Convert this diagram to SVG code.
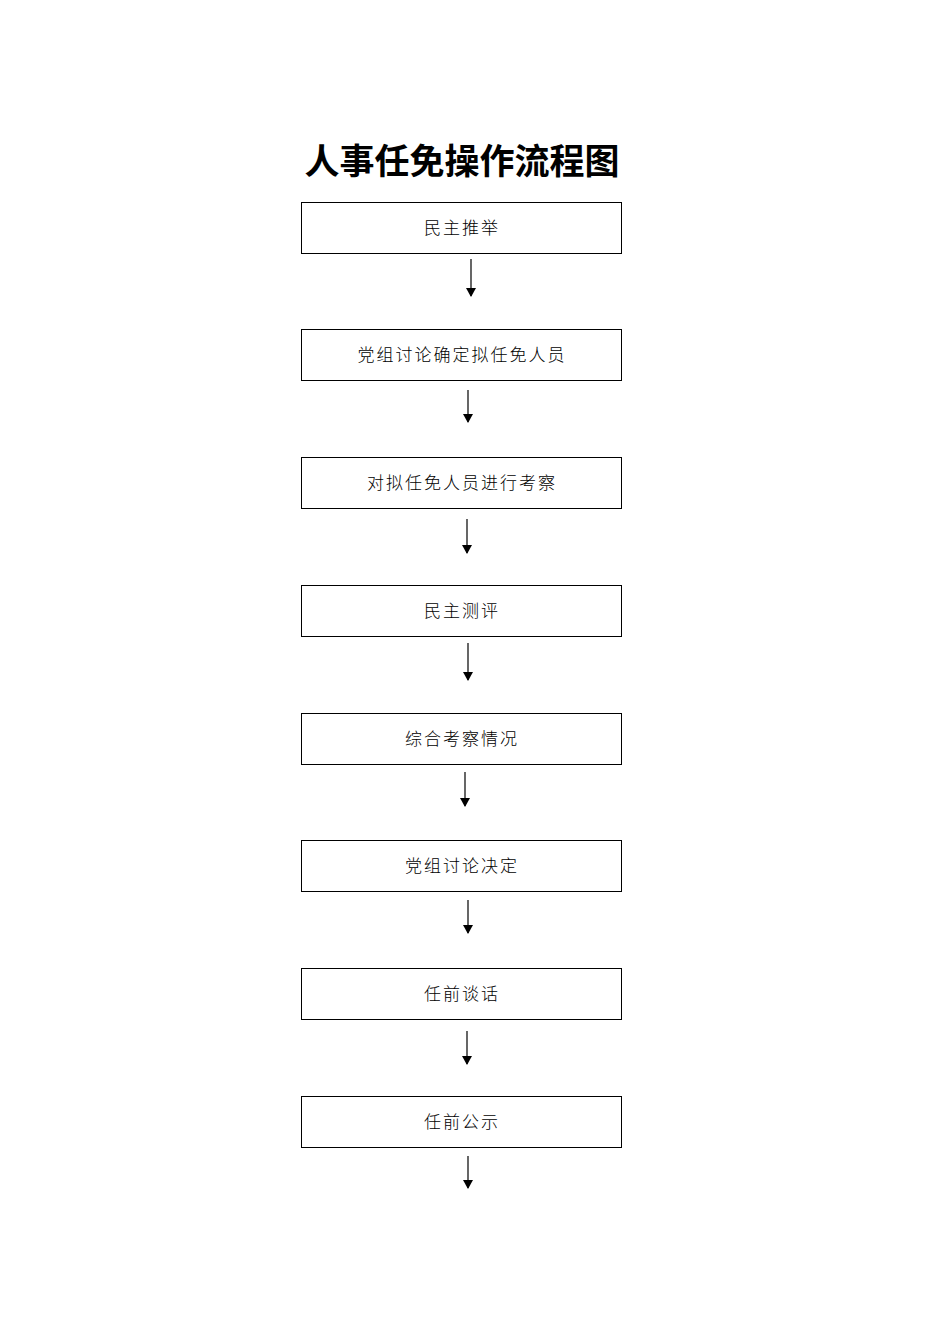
<svg xmlns="http://www.w3.org/2000/svg" width="950" height="1344" viewBox="0 0 950 1344">
<style>
.box{fill:#fff;stroke:#000;stroke-width:1}
.lbl{font-family:"Noto Sans CJK SC","Noto Sans CJK JP",sans-serif;font-size:17px;font-weight:300;fill:#000;text-anchor:middle;letter-spacing:2px}
.title{font-family:"Noto Sans CJK SC",sans-serif;font-size:35px;font-weight:bold;fill:#000;text-anchor:middle}
.conn{stroke:#000;stroke-width:1.2;fill:none;marker-end:url(#ah)}
</style>
<defs>
<marker id="ah" markerWidth="10" markerHeight="10" refX="8" refY="5" orient="auto" markerUnits="userSpaceOnUse">
<path d="M0,0 L9,5 L0,10 Z" fill="#000"/>
</marker>
</defs>
<rect width="950" height="1344" fill="#fff"/>
<text class="title" x="462" y="174">人事任免操作流程图</text>
<g id="n1"><rect class="box" x="301.5" y="202.5" width="320" height="51"/><text class="lbl" x="462" y="234">民主推举</text></g>
<g id="n2"><rect class="box" x="301.5" y="329.5" width="320" height="51"/><text class="lbl" x="462" y="361">党组讨论确定拟任免人员</text></g>
<g id="n3"><rect class="box" x="301.5" y="457.5" width="320" height="51"/><text class="lbl" x="462" y="489">对拟任免人员进行考察</text></g>
<g id="n4"><rect class="box" x="301.5" y="585.5" width="320" height="51"/><text class="lbl" x="462" y="617">民主测评</text></g>
<g id="n5"><rect class="box" x="301.5" y="713.5" width="320" height="51"/><text class="lbl" x="462" y="745">综合考察情况</text></g>
<g id="n6"><rect class="box" x="301.5" y="840.5" width="320" height="51"/><text class="lbl" x="462" y="872">党组讨论决定</text></g>
<g id="n7"><rect class="box" x="301.5" y="968.5" width="320" height="51"/><text class="lbl" x="462" y="1000">任前谈话</text></g>
<g id="n8"><rect class="box" x="301.5" y="1096.5" width="320" height="51"/><text class="lbl" x="462" y="1128">任前公示</text></g>
<g id="connectors">
<line class="conn" x1="471" y1="259" x2="471" y2="296"/>
<line class="conn" x1="468" y1="390" x2="468" y2="422"/>
<line class="conn" x1="467" y1="519" x2="467" y2="553"/>
<line class="conn" x1="468" y1="643" x2="468" y2="680"/>
<line class="conn" x1="465" y1="772" x2="465" y2="806"/>
<line class="conn" x1="468" y1="900" x2="468" y2="933"/>
<line class="conn" x1="467" y1="1031" x2="467" y2="1064"/>
<line class="conn" x1="468" y1="1156" x2="468" y2="1188"/>
</g>
</svg>
